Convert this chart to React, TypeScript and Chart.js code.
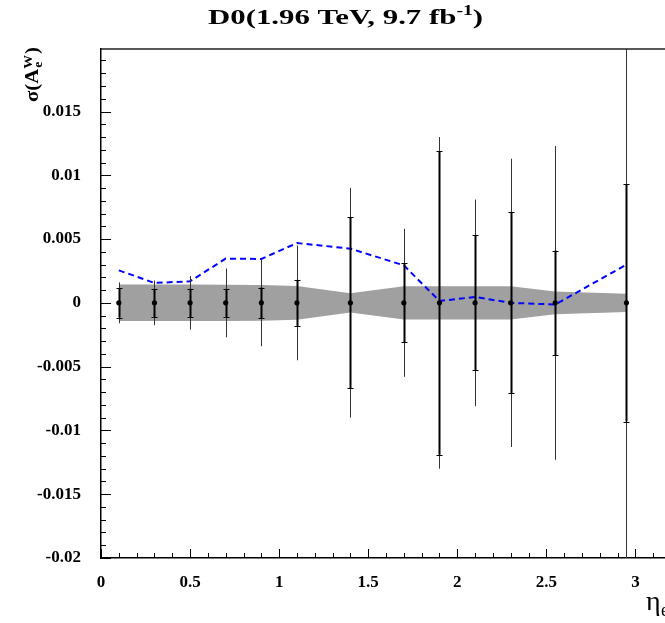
import { useEffect, useRef } from 'react'
import { Chart, registerables } from 'chart.js'

Chart.register(...registerables)

const FONT = "'Liberation Serif', 'Times New Roman', serif"

// eta bin centres of the D0 measurement
const etaBins = [0.1, 0.3, 0.5, 0.7, 0.9, 1.1, 1.4, 1.7, 1.9, 2.1, 2.3, 2.55, 2.95]
// points sit on zero, only the uncertainties matter
const centralValues = [0, 0, 0, 0, 0, 0, 0, 0, 0, 0, 0, 0, 0]
// inner (capped) and outer error bars
const innerErrors = [
  0.00115, 0.0011, 0.0011, 0.0011, 0.0012, 0.0018, 0.0067, 0.0031, 0.0119, 0.0053, 0.0071,
  0.0041, 0.0093,
]
const outerErrors = [
  0.0016, 0.00175, 0.0021, 0.0027, 0.0034, 0.0045, 0.009, 0.0058, 0.013, 0.0081, 0.0113,
  0.0123, 0.03,
]
// grey band half width
const bandHalfWidth = [
  0.00143, 0.00143, 0.00143, 0.00142, 0.0014, 0.00133, 0.00075, 0.0013, 0.0013, 0.0013,
  0.0013, 0.0009, 0.00072,
]
// blue dashed curve
const dashedCurve = [
  0.00255, 0.00156, 0.00169, 0.00347, 0.00344, 0.00469, 0.00425, 0.00294, 0.00015, 0.00046,
  0.0, -0.00013, 0.003,
]

const titleText = 'D0(1.96 TeV, 9.7 fb'
const titleSup = '-1'

const POINTS_INDEX = 3

const fmt = (v: number) => String(Math.round(v * 1000) / 1000)

const errorBarPlugin = {
  id: 'errorBars',
  beforeDatasetDraw(chart: any, args: any) {
    if (args.index !== POINTS_INDEX) return
    const { ctx, chartArea, scales } = chart
    const { x, y } = scales
    ctx.save()
    ctx.beginPath()
    ctx.rect(chartArea.left, chartArea.top, chartArea.right - chartArea.left, chartArea.bottom - chartArea.top)
    ctx.clip()
    etaBins.forEach((eta, i) => {
      const px = Math.round(x.getPixelForValue(eta))
      const c = centralValues[i]
      // outer bar, thin
      ctx.strokeStyle = '#333'
      ctx.lineWidth = 1
      ctx.beginPath()
      ctx.moveTo(px + 0.5, y.getPixelForValue(c + outerErrors[i]))
      ctx.lineTo(px + 0.5, y.getPixelForValue(c - outerErrors[i]))
      ctx.stroke()
      // inner bar, thicker with caps
      const top = y.getPixelForValue(c + innerErrors[i])
      const bot = y.getPixelForValue(c - innerErrors[i])
      ctx.strokeStyle = '#000'
      ctx.lineWidth = 2
      ctx.beginPath()
      ctx.moveTo(px + 0.5, top)
      ctx.lineTo(px + 0.5, bot)
      ctx.stroke()
      ctx.lineWidth = 1
      ctx.beginPath()
      ctx.moveTo(px - 2.5, Math.round(top) + 0.5)
      ctx.lineTo(px + 3.5, Math.round(top) + 0.5)
      ctx.moveTo(px - 2.5, Math.round(bot) + 0.5)
      ctx.lineTo(px + 3.5, Math.round(bot) + 0.5)
      ctx.stroke()
    })
    ctx.restore()
  },
}

const decorPlugin = {
  id: 'decor',
  afterDraw(chart: any) {
    const { ctx, chartArea, scales } = chart
    const { x, y } = scales
    const { left, right, top, bottom } = chartArea
    ctx.save()

    // frame top and right
    ctx.strokeStyle = '#222'
    ctx.lineWidth = 1.5
    ctx.beginPath()
    ctx.moveTo(left, top)
    ctx.lineTo(right, top)
    ctx.lineTo(right, bottom)
    ctx.stroke()

    // inward ticks, majors and minors
    ctx.strokeStyle = '#000'
    ctx.lineWidth = 1
    ctx.beginPath()
    for (let i = -20; i <= 19; i++) {
      const py = Math.round(y.getPixelForValue(i / 1000)) + 0.5
      const len = i % 5 === 0 ? 10 : 5
      ctx.moveTo(left, py)
      ctx.lineTo(left + len, py)
    }
    for (let i = 0; i <= 32; i++) {
      const px = Math.round(x.getPixelForValue(i / 10)) + 0.5
      const len = i % 5 === 0 ? 9 : 5
      ctx.moveTo(px, bottom)
      ctx.lineTo(px, bottom - len)
    }
    ctx.stroke()

    ctx.fillStyle = '#000'
    ctx.textBaseline = 'alphabetic'
    ctx.textAlign = 'left'

    // title with superscript, stretched like the original
    ctx.save()
    ctx.font = `bold 22px ${FONT}`
    const wMain = ctx.measureText(titleText).width
    const wClose = ctx.measureText(')').width
    ctx.font = `bold 14px ${FONT}`
    const wSup = ctx.measureText(titleSup).width
    const total = wMain + wSup + wClose
    const target = 275
    ctx.translate(345.5 - target / 2, 23.5)
    ctx.scale(target / total, 1)
    ctx.font = `bold 22px ${FONT}`
    ctx.fillText(titleText, 0, 0)
    ctx.font = `bold 14px ${FONT}`
    ctx.fillText(titleSup, wMain, -8.5)
    ctx.font = `bold 22px ${FONT}`
    ctx.fillText(')', wMain + wSup, 0)
    ctx.restore()

    // y axis title sigma(A_e^W), rotated
    ctx.save()
    ctx.translate(38, 102)
    ctx.rotate(-Math.PI / 2)
    ctx.font = `bold 18px ${FONT}`
    const w1 = ctx.measureText('σ(A').width
    const wPar = ctx.measureText(')').width
    ctx.font = `bold 12px ${FONT}`
    const wW = ctx.measureText('W').width
    const wE = ctx.measureText('e').width
    const yLen = w1 + Math.max(wW, wE) + 1 + wPar
    ctx.scale(55 / yLen, 1)
    ctx.font = `bold 18px ${FONT}`
    ctx.fillText('σ(A', 0, 0)
    ctx.fillText(')', w1 + Math.max(wW, wE) + 1, 0)
    ctx.font = `bold 12px ${FONT}`
    ctx.fillText('W', w1, -6)
    ctx.fillText('e', w1 + 1, 4)
    ctx.restore()

    // x axis title eta_e
    ctx.font = `28px ${FONT}`
    ctx.fillText('η', 646, 610)
    ctx.font = `18px ${FONT}`
    ctx.fillText('e', 661, 616)

    ctx.restore()
  },
}

const App = () => {
  const canvasRef = useRef<HTMLCanvasElement | null>(null)

  useEffect(() => {
    document.body.style.margin = '0'
    const ctx = canvasRef.current?.getContext('2d')
    if (!ctx) return

    const bandUpper = etaBins.map((x, i) => ({ x, y: bandHalfWidth[i] }))
    const bandLower = etaBins.map((x, i) => ({ x, y: -bandHalfWidth[i] }))
    const curve = etaBins.map((x, i) => ({ x, y: dashedCurve[i] }))
    const points = etaBins.map((x, i) => ({ x, y: centralValues[i] }))

    const chart = new Chart(ctx, {
      type: 'line',
      data: {
        datasets: [
          {
            label: 'band upper',
            data: bandUpper,
            borderColor: 'rgba(0,0,0,0)',
            borderWidth: 0,
            pointRadius: 0,
            fill: false,
            order: 4,
          },
          {
            label: 'band lower',
            data: bandLower,
            borderColor: 'rgba(0,0,0,0)',
            borderWidth: 0,
            backgroundColor: '#a0a0a0',
            pointRadius: 0,
            fill: 0,
            order: 3,
          },
          {
            label: 'curve',
            data: curve,
            borderColor: '#0000ff',
            borderWidth: 2,
            borderDash: [6, 4],
            pointRadius: 0,
            fill: false,
            tension: 0,
            order: 2,
          },
          {
            label: 'D0',
            data: points,
            showLine: false,
            pointRadius: 2.6,
            pointBackgroundColor: '#000',
            pointBorderColor: '#000',
            pointBorderWidth: 0,
            order: 1,
          },
        ],
      },
      options: {
        responsive: false,
        animation: false,
        layout: { padding: { left: 0, top: 49, right: 19, bottom: 25 } },
        plugins: {
          legend: { display: false },
          tooltip: { enabled: false },
          title: { display: false },
        },
        scales: {
          x: {
            type: 'linear',
            min: 0,
            max: 3.2,
            grid: { display: false },
            border: { display: true, color: '#000', width: 1.5 },
            ticks: {
              stepSize: 0.5,
              includeBounds: false,
              maxRotation: 0,
              padding: 6,
              color: '#000',
              font: { family: FONT, size: 17, weight: 'bold' },
              callback: (v: any) => fmt(Number(v)),
            },
            afterFit: (scale: any) => {
              scale.height = 40
            },
          },
          y: {
            type: 'linear',
            min: -0.02,
            max: 0.0199,
            grid: { display: false },
            border: { display: true, color: '#000', width: 1.5 },
            ticks: {
              stepSize: 0.005,
              includeBounds: false,
              padding: 12,
              color: '#000',
              font: { family: FONT, size: 17, weight: 'bold' },
              callback: (v: any) => fmt(Number(v)),
            },
            afterFit: (scale: any) => {
              scale.width = 101
            },
          },
        },
      },
      plugins: [errorBarPlugin, decorPlugin],
    })

    return () => {
      chart.destroy()
    }
  }, [])

  return (
    <div style={{ width: 665, height: 623, overflow: 'hidden', background: '#fff' }}>
      <canvas ref={canvasRef} width={690} height={623} style={{ width: 690, height: 623 }} />
    </div>
  )
}

export default App
